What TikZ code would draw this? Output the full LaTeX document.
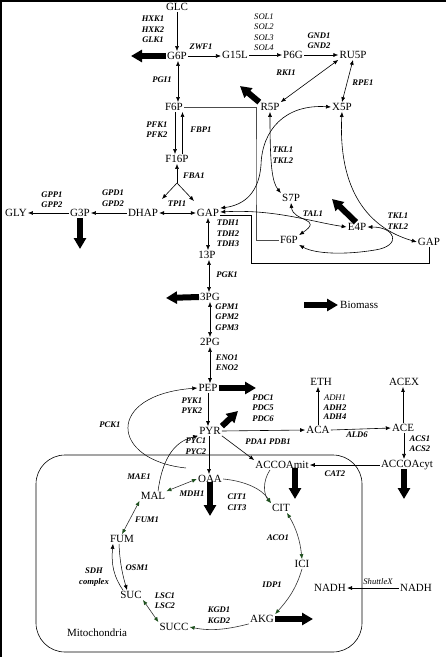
\documentclass[tikz,border=0pt]{standalone}
\usepackage{fontspec}
\setmainfont{Liberation Serif}
\usetikzlibrary{arrows.meta,calc}
\definecolor{tcagreen}{RGB}{30,80,30}
\tikzset{
 met/.style={font=\fontsize{11}{12}\selectfont, inner sep=1pt},
 enz/.style={font=\fontsize{8.6}{10.5}\selectfont\bfseries\itshape, align=center, inner sep=0pt},
 enzl/.style={font=\fontsize{8.6}{10.5}\selectfont\itshape, align=center, inner sep=0pt},
 rx/.style={-{Latex[length=5pt,width=4pt]}, line width=0.6pt},
 rxb/.style={{Latex[length=5pt,width=4pt]}-{Latex[length=5pt,width=4pt]}, line width=0.6pt},
 grx/.style={-{Latex[length=5pt,width=4pt,color=tcagreen]}, line width=0.6pt, draw=black!80},
 grxb/.style={{Latex[length=5pt,width=4pt,color=tcagreen]}-{Latex[length=5pt,width=4pt,color=tcagreen]}, line width=0.6pt, draw=black!80},
 bio/.style={-{Triangle[length=11pt,width=12pt]}, line width=6pt},
 thinl/.style={line width=0.6pt},
}
\begin{document}
\begin{tikzpicture}[x=1pt,y=-1pt]
\useasboundingbox (0,0) rectangle (446,657);
% frame
\draw[line width=1.5pt] (1,657) -- (1,1) -- (446,1);
% metabolites
\node[met] (GLC) at (177,7) {GLC};
\node[met] (G6P) at (177,56) {G6P};
\node[met] (G15L) at (235,55) {G15L};
\node[met] (P6G) at (293,55) {P6G};
\node[met] (RU5P) at (353,55) {RU5P};
\node[met] (F6P) at (174,107) {F6P};
\node[met] (R5P) at (270,107) {R5P};
\node[met] (X5P) at (342,107) {X5P};
\node[met] (F16P) at (177,159) {F16P};
\node[met] (GAP) at (208,213) {GAP};
\node[met] (DHAP) at (143,213) {DHAP};
\node[met] (G3P) at (80,213) {G3P};
\node[met] (GLY) at (16,213) {GLY};
\node[met] (S7P) at (291,198) {S7P};
\node[met] (E4P) at (357,227) {E4P};
\node[met] (F6Pb) at (289,240) {F6P};
\node[met] (GAPb) at (429,242) {GAP};
\node[met] (P13) at (207,255) {13P};
\node[met] (PG3) at (210,297) {3PG};
\node[met] (PG2) at (210,342) {2PG};
\node[met] (PEP) at (208,388) {PEP};
\node[met] (PYR) at (210,431) {PYR};
\node[met] (ACA) at (318,430) {ACA};
\node[met] (ETH) at (321,382) {ETH};
\node[met] (ACEX) at (404,382) {ACEX};
\node[met] (ACE) at (403,428) {ACE};
\node[met] (ACCOAcyt) at (407,465) {ACCOAcyt};
\node[met] (ACCOAmit) at (282,465) {ACCOAmit};
\node[met] (OAA) at (210,479) {OAA};
\node[met] (MAL) at (153,496) {MAL};
\node[met] (FUM) at (122,539) {FUM};
\node[met] (CIT) at (281,508) {CIT};
\node[met] (ICI) at (302,564) {ICI};
\node[met] (AKG) at (262,619) {AKG};
\node[met] (NADHm) at (330,588) {NADH};
\node[met] (NADHc) at (416,588) {NADH};
\node[met] (SUC) at (131,595) {SUC};
\node[met] (SUCC) at (174,627) {SUCC};
\node[met] (mito) at (97,633) {Mitochondria};
% mitochondria compartment
\draw[line width=0.6pt, rounded corners=29pt] (36,455) rectangle (362,652);
% enzymes
\node[enz] (eHXK) at (153,29.5) {HXK1\\HXK2\\GLK1};
\node[enz] (eZWF) at (201,47) {ZWF1};
\node[enzl] (eSOL) at (264,32) {SOL1\\SOL2\\SOL3\\SOL4};
\node[enz] (eGND) at (319,40.5) {GND1\\GND2};
\node[enz] (eRKI) at (286,73) {RKI1};
\node[enz] (eRPE) at (363,83) {RPE1};
\node[enz] (ePGI) at (162,80) {PGI1};
\node[enz] (ePFK) at (157,129.5) {PFK1\\PFK2};
\node[enz] (eFBP) at (201,130) {FBP1};
\node[enz] (eFBA) at (194,176) {FBA1};
\node[enz] (eTPI) at (177,204) {TPI1};
\node[enz] (eGPD) at (113,198) {GPD1\\GPD2};
\node[enz] (eGPP) at (52,199.5) {GPP1\\GPP2};
\node[enz] (eTDH) at (228,233.5) {TDH1\\TDH2\\TDH3};
\node[enz] (ePGK) at (227,275) {PGK1};
\node[enz] (eGPM) at (227,317) {GPM1\\GPM2\\GPM3};
\node[enz] (eENO) at (227,362.5) {ENO1\\ENO2};
\node[enz] (ePYK) at (192,405.5) {PYK1\\PYK2};
\node[enz] (ePDC) at (263,408) {PDC1\\PDC5\\PDC6};
\node[enz] (ePCK) at (110,425) {PCK1};
\node[enz] (ePYC) at (196,446) {PYC1\\PYC2};
\node[enz] (ePDA) at (268,442) {PDA1 PDB1};
\node[enz, font=\fontsize{8.6}{9.5}\selectfont\bfseries\itshape] (eADH) at (335,407.5) {{\mdseries ADH1}\\ADH2\\ADH4};
\node[enz] (eALD) at (357,435) {ALD6};
\node[enz] (eACS) at (420,443.5) {ACS1\\ACS2};
\node[enz] (eCAT) at (335,474) {CAT2};
\node[enz] (eMAE) at (139,477) {MAE1};
\node[enz] (eMDH) at (192,494) {MDH1};
\node[enz] (eCIT) at (237,502) {CIT1\\CIT3};
\node[enz] (eFUM) at (147,520) {FUM1};
\node[enz] (eACO) at (278,538) {ACO1};
\node[enz] (eIDP) at (272,585) {IDP1};
\node[enz] (eKGD) at (219,615) {KGD1\\KGD2};
\node[enzl] (eSHU) at (378,582) {ShuttleX};
\node[enz] (eSDH) at (94,577) {SDH\\complex};
\node[enz] (eOSM) at (137,568) {OSM1};
\node[enz] (eLSC) at (165,600.5) {LSC1\\LSC2};
\node[enz] (eTKLa) at (283,155) {TKL1\\TKL2};
\node[enz] (eTAL) at (313,214) {TAL1};
\node[enz] (eTKLb) at (398,221) {TKL1\\TKL2};
% glycolysis
\draw[rx] (GLC) -- (G6P);
\draw[rx] (G6P.east) -- (G15L.west |- G6P.east);
\draw[rx] (G15L.east) -- (P6G.west |- G15L.east);
\draw[rx] (P6G.east) -- (RU5P.west |- P6G.east);
\draw[rxb] (RU5P.south west) -- (R5P.north east);
\draw[rxb] (RU5P.south) -- (X5P.north);
\draw[rxb] ([xshift=1pt]G6P.south) -- ([xshift=1pt]G6P.south |- F6P.north);
\draw[rx] ([xshift=-2pt]F16P.north |- F6P.south) -- ([xshift=-2pt]F16P.north);
\draw[rx] ([xshift=5.5pt]F16P.north) -- ([xshift=5.5pt]F16P.north |- F6P.south);
\coordinate (J) at (177,183);
\coordinate (JL) at (162,199);
\coordinate (JR) at (194,201);
\draw[rx] (J) -- (F16P.south);
\draw[rx] (J) -- (JL);
\draw[rx] (J) -- (JR);
\draw[rxb] (DHAP.east) -- (GAP.west);
\draw[rx] (DHAP.west) -- (G3P.east);
\draw[rx] (G3P.west) -- (GLY.east);
\draw[rxb] (GAP.south) -- (GAP.south |- P13.north);
\draw[rxb] ([xshift=2pt]P13.south) -- ([xshift=2pt]P13.south |- PG3.north);
\draw[rxb] (PG3.south) -- (PG2.north);
\draw[rxb] (PG2.south) -- (PG2.south |- PEP.north);
\draw[rx] (PEP.south) -- (PEP.south |- PYR.north);
\draw[rx] ([xshift=-1pt]PYR.south) -- ([xshift=-1pt]PYR.south |- OAA.north);
% pentose phosphate
\coordinate (kF) at (256,170);
\draw[thinl, draw=black!70] (F6P.east) -| (kF) |- (F6Pb.west);
\coordinate (kG) at (251,263);
\draw[thinl] (GAPb.south) |- (kG) |- ([yshift=-2pt]GAP.east);
\draw[rxb] (R5P.south) .. controls (270,165) and (272,182) .. (S7P.north west);
\draw[rxb] (X5P.west) .. controls (285,104) and (262,130) .. (261,165) .. controls (259,192) and (245,205) .. (GAP.north east);
\draw[rxb] (S7P.south) .. controls (293,222) and (324,218) .. (F6Pb.north east);
\draw[rxb] ([yshift=1pt]GAP.east) .. controls (275,209) and (312,222) .. (E4P.west);
\draw[rxb] (E4P.east) .. controls (396,227) and (402,246) .. (375,250) .. controls (345,255) and (315,254) .. (F6Pb.south east);
\draw[rxb] (X5P.south) .. controls (338,190) and (368,228) .. (GAPb.west);
% lower part
\draw[rx] (PYR.east) -- (ACA.west);
\draw[rx] (ACA.north) -- (ACA.north |- ETH.south);
\draw[rx] (ACA.east) -- (ACE.west);
\draw[rx, line width=0.8pt] (ACE.north) -- (ACE.north |- ACEX.south);
\draw[rx] ([xshift=1pt]ACE.south) -- ([xshift=1pt]ACE.south |- ACCOAcyt.north);
\draw[rx] (ACCOAcyt.west) -- (ACCOAmit.east);
\draw[rx] (PYR.south east) -- (ACCOAmit.north west);
\coordinate (pck) at (186,468);
\draw[rx, line width=0.5pt] (pck) .. controls (110,460) and (105,395) .. (PEP.west);
\draw[rx, line width=0.5pt] ([xshift=5pt]MAL.north) .. controls (162,462) and (172,442) .. (PYR.south west);
\draw[grxb] (MAL.north east) -- (OAA.west);
\draw[grxb] (FUM.north) -- (MAL.south west);
\draw[grx] (OAA.east) .. controls (245,481) and (262,489) .. (CIT.north west);
\draw[grx] ([xshift=-12pt]ACCOAmit.south) .. controls (262,482) and (264,495) .. (CIT.north west);
\draw[grxb] (ICI.north) .. controls (300,540) and (296,528) .. ([xshift=6pt]CIT.south);
\draw[grx] (ICI.south) .. controls (296,590) and (286,602) .. (AKG.north east);
\draw[grx] (AKG.south west) .. controls (225,630) and (210,631) .. (SUCC.east);
\draw[grxb] (SUC.south east) -- (SUCC.north west);
\draw[rx, line width=0.5pt] ([xshift=-8pt]SUC.north) .. controls (114,577) and (111,565) .. ([xshift=-9pt]FUM.south);
\draw[rx, line width=0.5pt] ([xshift=-3pt]FUM.south) .. controls (120,565) and (123,576) .. ([xshift=-4pt]SUC.north);
\draw[rx] (NADHc.west) -- (NADHm.east);
% biomass drains
\coordinate (b1) at (131,56);
\coordinate (b2) at (240,86);
\coordinate (b3) at (80,249);
\coordinate (b4) at (332,199);
\coordinate (b5) at (166,298);
\coordinate (b6) at (256,388);
\coordinate (b7) at (238,411);
\coordinate (b8) at (210,516);
\coordinate (b9) at (295,499);
\coordinate (b10) at (404,499);
\coordinate (b11) at (313,619);
\draw[bio] (G6P.west) -- (b1);
\draw[bio] (R5P.north west) -- (b2);
\draw[bio] (G3P.south) -- (b3);
\draw[bio] ([xshift=-1pt]E4P.north) -- (b4);
\draw[bio] (PG3.west) -- (b5);
\draw[bio] (PEP.east) -- (b6);
\draw[bio] (PYR.north east) -- (b7);
\draw[bio] ([yshift=2pt]OAA.south) -- (b8);
\draw[bio] ([xshift=13pt,yshift=2pt]ACCOAmit.south) -- (b9);
\draw[bio] ([xshift=-3pt,yshift=2pt]ACCOAcyt.south) -- (b10);
\draw[bio] (AKG.east) -- (b11);
\coordinate (bm0) at (304,305);
\coordinate (bm1) at (338,305);
\draw[bio] (bm0) -- (bm1);
\node[met, anchor=west] (biomass) at (339,305) {Biomass};
\end{tikzpicture}
\end{document}
